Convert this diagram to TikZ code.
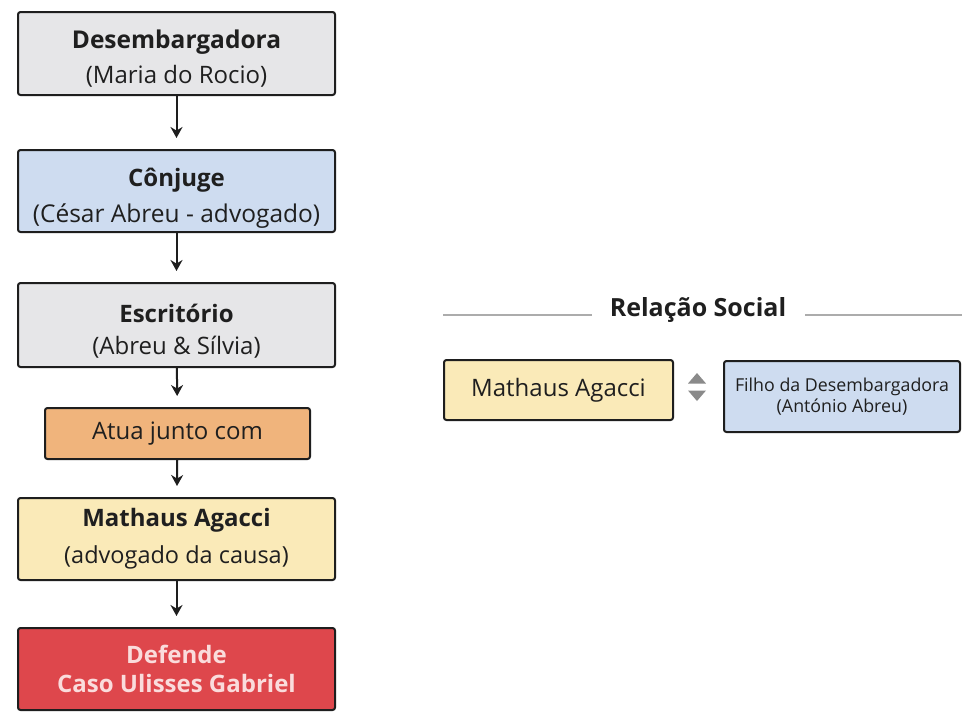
\documentclass[tikz,border=0pt]{standalone}
\usepackage{fontspec}
\setmainfont{Open Sans}
\usetikzlibrary{arrows.meta,calc}
\definecolor{boxgray}{HTML}{E6E6E8}
\definecolor{boxblue}{HTML}{CEDCF0}
\definecolor{boxorange}{HTML}{F0B47C}
\definecolor{boxyellow}{HTML}{FAEAB8}
\definecolor{boxred}{HTML}{DE474C}
\definecolor{redtext}{HTML}{FADCDC}
\definecolor{edge}{HTML}{1E1E1E}
\definecolor{symgray}{HTML}{8A8A8A}
\tikzset{
  box/.style={draw=edge, line width=2pt, rounded corners=2.5pt, align=center,
    minimum width=317pt, minimum height=83pt, inner sep=1pt, text=black!88,
    font=\fontsize{24}{33}\selectfont},
  flow/.style={-{Stealth[length=11pt,width=12pt]}, line width=2pt, draw=edge, shorten >=11pt},
  rule/.style={draw=gray!65, line width=1.2pt},
}
\newcommand{\topstrut}[1]{\rule{0pt}{#1}}
\begin{document}
\begin{tikzpicture}[x=1pt,y=-1pt]
\useasboundingbox (0,0) rectangle (962,716);
\fill[white] (0,0) rectangle (962,716);
\node[box, fill=boxgray] (b1) at (176.5,53.5)
  {\topstrut{28pt}{\fontsize{24.5}{33}\selectfont\bfseries Desembargadora}\\[2pt](Maria do Rocio)};
\node[box, fill=boxblue, minimum height=82pt] (b2) at (176.5,191)
  {\topstrut{33pt}{\bfseries Cônjuge}\\[3pt]{\fontsize{24.5}{33}\selectfont (César Abreu - advogado)}};
\node[box, fill=boxgray, minimum height=84pt] (b3) at (176.5,325)
  {\topstrut{31pt}{\bfseries Escritório}\\[-1pt](Abreu \& Sílvia)};
\node[box, fill=boxorange, minimum width=265pt, minimum height=51pt] (b4) at (177.5,433.5)
  {Atua junto com};
\node[box, fill=boxyellow, minimum height=82pt] (b5) at (176.5,539)
  {{\bfseries Mathaus Agacci}\\[4pt]{\fontsize{23.5}{33}\selectfont (advogado da causa)}};
\node[box, fill=boxred, minimum height=82pt, text=redtext,
  font=\fontsize{24}{29}\selectfont\bfseries] (b6) at (176.5,669)
  {Defende\\Caso Ulisses Gabriel};
\draw[flow] (b1) -- (b2);
\draw[flow] (b2) -- (b3);
\draw[flow] (b3) -- (b4);
\draw[flow] (b4) -- (b5);
\draw[flow] (b5) -- (b6);
% right part
\node[font=\fontsize{25}{30}\selectfont\bfseries, text=black!88] (rs) at (698,310) {Relação Social};
\coordinate (l1) at (443,315);
\coordinate (l2) at (592,315);
\coordinate (r1) at (805,315);
\coordinate (r2) at (962,315);
\draw[rule] (l1) -- (l2);
\draw[rule] (r1) -- (r2);
\node[box, fill=boxyellow, minimum width=229pt, minimum height=60pt] (ma) at (558.5,390)
  {Mathaus Agacci};
\node[box, fill=boxblue, minimum width=236pt, minimum height=71pt,
  font=\fontsize{17.8}{21}\selectfont] (fd) at (842,396.5)
  {Filho da Desembargadora\\(António Abreu)};
\coordinate (sym) at (697,387);
\fill[symgray] ($(sym)+(-9,-3.5)$) -- ($(sym)+(9,-3.5)$) -- ($(sym)+(0,-14)$) -- cycle;
\fill[symgray] ($(sym)+(-9,3.5)$) -- ($(sym)+(9,3.5)$) -- ($(sym)+(0,14)$) -- cycle;
\end{tikzpicture}
\end{document}
